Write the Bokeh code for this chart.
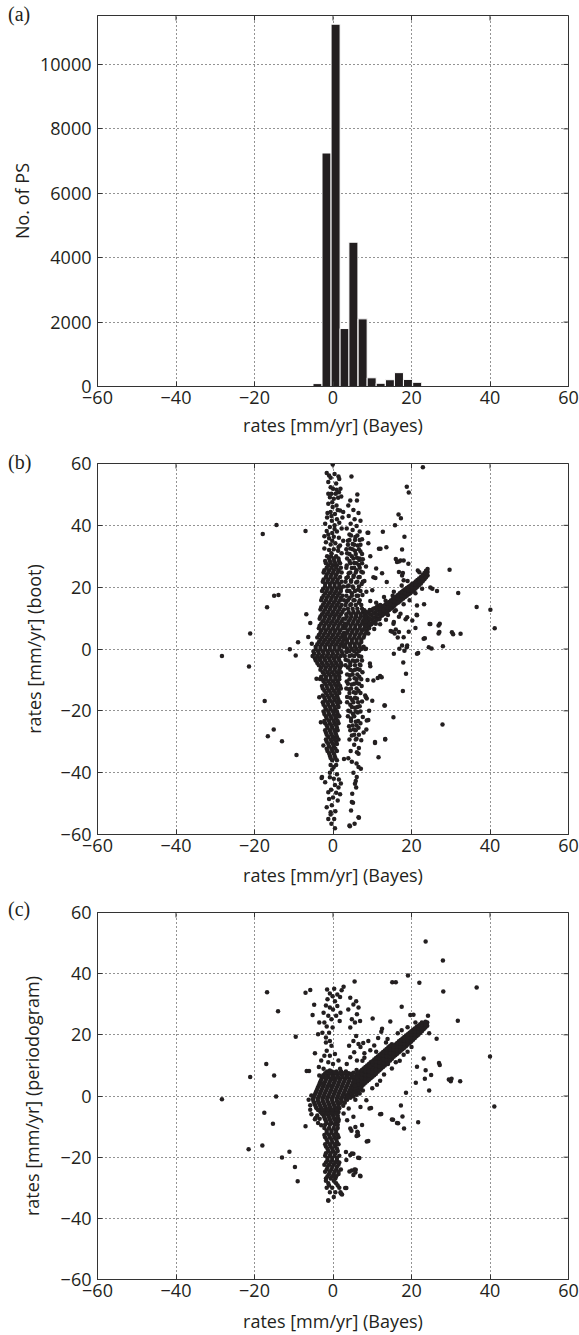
import math
from bokeh.plotting import figure
from bokeh.layouts import column
from bokeh.models import Range1d, FixedTicker, Div
from bokeh.embed import file_html
from bokeh.resources import INLINE

FONT = "Open Sans"
INK = "#231f20"
FRAME = "#333333"

# ---------------- data ----------------
x_ticks = [-60, -40, -20, 0, 20, 40, 60]
x_tick_labels = ["−60", "−40", "−20", "0", "20", "40", "60"]
rate_ticks = [-60, -40, -20, 0, 20, 40, 60]
rate_tick_labels = ["−60", "−40", "−20", "0", "20", "40", "60"]
count_ticks = [0, 2000, 4000, 6000, 8000, 10000]
count_tick_labels = ["0", "2000", "4000", "6000", "8000", "10000"]
panel_tags = ["(a)", "(b)", "(c)"]

# (a) histogram of Bayes rates
hist_centers = [-3.95, -1.65, 0.66, 2.95, 5.2, 7.55, 9.85, 12.15, 14.5, 16.8, 19.1, 21.45]
hist_counts = [90, 7250, 11250, 1800, 4480, 2100, 270, 100, 210, 430, 220, 130]

# (b) boot vs Bayes : main column near x=0 (rows: y, [x ...])
boot_column_rows = [
    (30, [-1.5, -0.5, 0.8]), (28.5, [-2, -0.8, 0.3, 1.5]), (27, [-1.2, 0, 1]),
    (25.5, [-2.2, -1, 0.2, 1.4]), (24, [-1.6, -0.4, 0.8]), (22.5, [-2.4, -1.2, 0, 1.2]),
    (21, [-2, -0.8, 0.4, 1.6]), (19.5, [-2.5, -1.4, -0.2, 1, 2]), (18, [-2, -0.8, 0.4, 1.6]),
    (16.5, [-2.8, -1.6, -0.4, 0.8, 2]), (15, [-2.2, -1, 0.2, 1.4]), (13.5, [-3, -1.8, -0.6, 0.6, 1.8]),
    (12, [-2.4, -1.2, 0, 1.2, 2.4]), (10.5, [-3.2, -2, -0.8, 0.4, 1.6]), (9, [-2.6, -1.4, -0.2, 1, 2.2]),
    (7.5, [-3.4, -2.2, -1, 0.2, 1.4, 2.6]), (6, [-3, -1.8, -0.6, 0.6, 1.8]),
    (4.5, [-3.6, -2.4, -1.2, 0, 1.2, 2.4]), (3, [-3.2, -2, -0.8, 0.4, 1.6, 2.8]),
    (1.5, [-4, -2.8, -1.6, -0.4, 0.8, 2]), (0, [-4.4, -3.2, -2, -0.8, 0.4, 1.6]),
    (-1.5, [-4.8, -3.6, -2.4, -1.2, 0, 1.2, 2.4]), (-3, [-4.6, -3.4, -2.2, -1, 0.2, 1.4]),
    (-4.5, [-4, -2.8, -1.6, -0.4, 0.8, 2]), (-6, [-3, -1.8, -0.6, 0.6, 1.8]),
    (-7.5, [-2.6, -1.4, -0.2, 1, 2]), (-9, [-3, -1.8, -0.6, 0.6, 1.6]), (-10.5, [-2.4, -1.2, 0, 1.2]),
    (-12, [-2.8, -1.6, -0.4, 0.8, 1.8]), (-13.5, [-2.2, -1, 0.2, 1.4]), (-15, [-2.6, -1.4, -0.2, 1]),
    (-16.5, [-2, -0.8, 0.4, 1.4]), (-18, [-2.4, -1.2, 0, 1.2]), (-19.5, [-1.8, -0.6, 0.6]),
    (-21, [-2.2, -1, 0.2, 1.2]), (-22.5, [-1.6, -0.4, 0.8]), (-24, [-2, -0.8, 0.4, 1.4]),
    (-25.5, [-1.4, -0.2, 1]), (-27, [-1.8, -0.6, 0.6]), (-28.5, [-1.2, 0, 1]),
    (-30, [-1.6, -0.4, 0.8]), (-31.5, [-1, 0.2]), (-33, [-1.4, -0.2, 1]), (-34.5, [-0.8, 0.4]),
    (-36, [-0.2, 1]), (-37.5, [-0.6, 0.8]),
]
boot_column_fill_rows = [
    (29.25, [-1, 0.2, 1.4]), (27.75, [-1.8, -0.6, 0.6, 1.8]), (26.25, [-1.6, -0.4, 0.8, 2]),
    (24.75, [-2.4, -1.2, 0, 1.2, 2.2]), (23.25, [-1.8, -0.6, 0.6, 1.8]),
    (21.75, [-2.6, -1.4, -0.2, 1, 2.2]), (20.25, [-2, -0.8, 0.4, 1.6, 2.6]),
    (18.75, [-2.8, -1.6, -0.4, 0.8, 2]), (17.25, [-2.4, -1.2, 0, 1.2, 2.4]),
    (15.75, [-3, -1.8, -0.6, 0.6, 1.8, 2.8]), (14.25, [-2.6, -1.4, -0.2, 1, 2.2]),
    (12.75, [-3.2, -2, -0.8, 0.4, 1.6, 2.8]), (11.25, [-2.8, -1.6, -0.4, 0.8, 2]),
    (9.75, [-3.4, -2.2, -1, 0.2, 1.4, 2.6]), (8.25, [-3, -1.8, -0.6, 0.6, 1.8, 3]),
    (6.75, [-3.6, -2.4, -1.2, 0, 1.2, 2.4]), (5.25, [-3.2, -2, -0.8, 0.4, 1.6, 2.8]),
    (3.75, [-4, -2.8, -1.6, -0.4, 0.8, 2, 3]), (2.25, [-3.6, -2.4, -1.2, 0, 1.2, 2.4]),
    (0.75, [-4.4, -3.2, -2, -0.8, 0.4, 1.6, 2.6]), (-0.75, [-5, -3.8, -2.6, -1.4, -0.2, 1, 2.2]),
    (-2.25, [-5.2, -4, -2.8, -1.6, -0.4, 0.8, 2]), (-3.75, [-4.4, -3.2, -2, -0.8, 0.4, 1.6]),
    (-5.25, [-3.6, -2.4, -1.2, 0, 1.2, 2.2]), (-6.75, [-3.2, -2, -0.8, 0.4, 1.6]),
    (-8.25, [-2.2, -1, 0.2, 1.4]), (-9.75, [-2.8, -1.8, -0.6, 0.6, 1.6]),
    (-11.25, [-2, -0.8, 0.4, 1.4]), (-12.75, [-2.6, -1.4, -0.2, 1, 2]),
    (-14.25, [-1.8, -0.6, 0.6, 1.6]), (-15.75, [-2.2, -1, 0.2, 1.2]),
    (-17.25, [-2.6, -1.4, -0.2, 1, 1.8]), (-18.75, [-2, -0.8, 0.4, 1.4]),
    (-20.25, [-2.4, -1.2, 0, 1]), (-21.75, [-1.8, -0.6, 0.6, 1.6]), (-23.25, [-2.2, -1, 0.2, 1.2]),
    (-24.75, [-1.6, -0.4, 0.8]), (-26.25, [-2, -0.8, 0.4, 1.2]), (-27.75, [-1.6, -0.4, 0.8]),
    (-29.25, [-1.8, -0.6, 0.4, 1.4]), (-30.75, [-1.2, 0, 1]), (-32.25, [-1.6, -0.4, 0.6]),
    (-33.75, [-1, 0.2]), (-35.25, [-0.6, 0.6]),
]
boot_column_ends = [
    (-0.07, 59.7), (-1.6, 56.9), (-1, 56.1), (-0.6, 55.4), (0.4, 56.6), (1.4, 55.8), (1.6, 55),
    (-0.6, 52.3), (0, 51.8), (0.9, 51.5), (1.9, 51.8), (-1.2, 50.2), (-0.4, 50.2), (0.7, 50.2),
    (1.5, 50.7), (-0.8, 49.1), (0.2, 48.6), (1.3, 48.9), (2.1, 49.3), (-1.2, 47), (-0.1, 45.9),
    (0.9, 46.4), (-0.6, 44.3), (0.5, 43.7), (1.8, 44.8), (2.6, 44.3), (-1.5, 42.5), (-0.3, 41.5),
    (1, 42), (-2, 40.5), (-0.8, 39.5), (0.4, 40), (1.6, 40.8), (-1.6, 38.2), (-0.2, 37.5), (1, 38),
    (-2.2, 36.5), (-1, 35.8), (0.2, 36.3), (1.5, 36), (-1.8, 34.5), (-0.6, 33.8), (0.6, 34.2),
    (1.8, 33.5), (-2.2, 32.5), (-1, 32), (0.2, 32.3), (1.3, 31.8), (2.2, 31),
    (-1.2, 54), (0.8, 53.5), (-0.2, 47.5), (1.2, 45), (-1.4, 44), (2.4, 42.5), (-0.4, 43),
    (2.2, 39), (-1.2, 37), (2.6, 35), (0.4, 38.8), (-0.2, 35), (1.4, 33), (-0.4, 31),
    (-0.2, -39), (1, -40.5), (0.2, -42), (-0.8, -41.5), (1.5, -42.2), (0.5, -44), (-0.5, -45.5),
    (0.8, -46.5), (0, -48), (1.2, -49), (-0.3, -50.5), (0.6, -52.5), (-0.6, -53.5), (0.3, -55),
    (-0.4, -56.5), (0.5, -58), (1.8, -47), (2, -43.5), (-2.8, -41.4), (-2, -43.1), (-1.2, -46.3),
    (-1.6, -51.2), (-0.6, -52.8), (-1.2, -55), (-3.5, -3.2), (-3.3, -9.7), (-3.5, -15.6),
    (-3.1, -23.7), (-2.45, -31.2), (0.2, -38.2), (-0.8, -40), (1.4, -44.8), (-1, -48.5),
]
# (b) second branch near x=5
boot_branch = [
    (6.2, 50), (6.1, 48), (4.4, 48), (3.9, 46.4), (5.2, 45), (6.5, 44), (4, 43), (5.5, 42), (7, 41.5),
    (4.5, 40.5), (6, 39.8), (3.5, 39), (5, 38.5), (6.8, 38), (4.2, 37), (5.7, 36.2), (7.4, 35.5),
    (3.8, 35), (5, 34), (6.3, 33.5), (4.4, 32.5), (5.6, 31.8), (7, 31.5), (3.6, 31), (4.8, 30),
    (6.1, 29.5), (7.6, 29), (4.2, 28.5), (5.4, 27.8), (6.6, 27.2), (3.5, 27), (4.8, 26.2), (6, 25.5),
    (7.2, 25), (4, 24.5), (5.3, 23.8), (6.5, 23.2), (3.4, 23), (4.6, 22.2), (5.9, 21.5), (7.3, 21),
    (4, 20.5), (5.2, 19.8), (6.4, 19.2), (3.6, 18.8), (4.8, 18), (6, 17.2), (7.5, 17.5), (4.2, 16.5),
    (5.5, 15.8), (3.4, 15.2), (6.6, 15), (4.6, 14.5),
    (8.8, 37.6), (9, 34.2), (10.3, 23.2), (6.7, 28.8), (8.4, 26.7), (9.5, 30), (8, 22), (10, 19),
    (9.5, 15.5), (8.5, 18.5), (11, 26), (12.5, 24.5),
    (3.5, -1), (4.8, -2), (6, -1.5), (7.2, -2.5), (3.2, -3.5), (4.4, -4.5), (5.6, -4), (6.8, -5),
    (3.8, -6), (5, -7), (6.2, -6.5), (7.5, -7.5), (4.3, -8.5), (5.5, -9.5), (6.7, -9), (3.5, -10.5),
    (4.8, -11.5), (6, -11), (7.3, -12), (4.1, -13), (5.3, -14), (6.5, -13.5), (3.6, -15.5),
    (4.9, -16.5), (6.1, -16), (7.4, -17), (4.4, -18), (5.6, -19), (6.8, -18.5), (3.9, -20),
    (5.1, -21), (6.3, -20.5), (7.6, -22), (4.6, -22.5), (5.8, -23.5), (7, -24), (4.1, -25),
    (5.3, -26), (6.5, -25.5), (7.8, -27), (4.8, -28), (6, -29), (7.2, -29.5), (5.4, -31),
    (6.6, -32), (4.5, -33), (8.5, -26), (9, -23), (8.2, -15), (8.8, -10), (9.2, -20),
    (6, -37), (5.2, -40), (4.8, -36.5),
]
boot_branch_fill_rows = [
    (36.75, [4.6, 6.2]), (35.25, [4.2, 5.6, 6.8]), (33.75, [3.8, 5.4, 7]), (32.25, [3.4, 5, 6.6]),
    (30.75, [4.2, 5.8, 7.4]), (29.25, [3.6, 5.2, 6.8]), (27.75, [4.4, 6, 7.4]),
    (26.25, [3.4, 5.4, 6.8]), (24.75, [4.4, 5.8, 7.6]), (23.25, [3.8, 5.2, 6.8]),
    (21.75, [3.2, 4.6, 6.2, 7.6]), (20.25, [3.6, 5, 6.6]), (18.75, [4.2, 5.6, 7]),
    (17.25, [3.4, 4.8, 6.4]), (15.75, [3.8, 5.2, 6.8]), (14.25, [3.2, 4.4, 5.8, 7.2]),
    (13, [3.8, 5, 6.2, 7.4]),
    (-2.25, [3, 4.2, 5.4, 6.6]), (-3.75, [3.8, 5, 6.2, 7.4]), (-5.25, [3.2, 4.4, 5.6, 7]),
    (-6.75, [4.4, 5.6, 6.8]), (-8.25, [3.6, 5, 6.2]), (-9.75, [4.2, 6, 7.2]),
    (-11.25, [3.8, 5.4, 6.6]), (-12.75, [3.4, 4.6, 6]), (-14.25, [4.2, 5.8, 7]),
    (-15.75, [4.4, 5.6]), (-17.25, [3.6, 5.2, 6.4]), (-18.75, [4.8, 6.2]), (-20.25, [4.4, 5.8, 7]),
    (-21.75, [3.8, 5.4]), (-23.25, [4.6, 6.4]), (-24.75, [5, 6]), (-26.25, [4.4, 5.8]),
    (-27.75, [5.4, 6.6]), (-29.25, [4.2, 5.8]),
]
# (b) dense blob right of the column (rows: y, [x ...])
boot_blob_rows = [
    (12, [4, 5.2, 6.4, 7.6]), (10.5, [3.5, 4.7, 5.9, 7.1, 8.3]), (9, [4, 5.2, 6.4, 7.6, 8.8]),
    (7.5, [3.3, 4.5, 5.7, 6.9, 8.1, 9.3]), (6, [3.8, 5, 6.2, 7.4, 8.6]), (4.5, [3.2, 4.4, 5.6, 6.8, 8]),
    (3, [3.6, 4.8, 6, 7.2]), (1.5, [3.1, 4.3, 5.5, 6.7]), (0, [3.6, 4.8, 6, 7.2, 8.2]),
    (11.25, [3.4, 4.6, 5.8, 7, 8.2]), (9.75, [3.2, 4.4, 5.6, 6.8, 8, 9.2]),
    (8.25, [3.8, 5, 6.2, 7.4, 8.6]), (6.75, [3.2, 4.4, 5.6, 6.8, 8, 9.2]),
    (5.25, [3.6, 4.8, 6, 7.2, 8.4]), (3.75, [3, 4.2, 5.4, 6.6, 7.8]), (2.25, [3.6, 4.8, 6, 7.2]),
    (0.75, [3.2, 4.4, 5.6, 6.8, 7.8]), (-0.75, [3.4, 4.2, 5.4, 6.6]),
]
# (b) diagonal branch (cols: x, [y ...])
boot_diag_cols = [
    (8.0, [6.5, 8, 9.5, 11, 12.5]), (8.9, [7.2, 8.7, 10.2, 11.7]), (9.8, [8, 9.5, 11, 12.5]),
    (10.7, [8.8, 10.3, 11.8, 13.2]), (11.6, [9.8, 11.2, 12.6, 14]), (12.5, [10.8, 12.2, 13.6]),
    (13.4, [11.6, 13, 14.4, 15.6]), (14.3, [12.6, 13.9, 15.2]), (15.2, [13.4, 14.8, 16.1, 17.2]),
    (16.1, [14.6, 15.8, 17]), (17.0, [15.4, 16.7, 18]), (17.9, [16.3, 17.6, 18.9]),
    (18.8, [17.2, 18.5, 19.7]), (19.7, [18, 19.3, 20.5]), (20.6, [19.1, 20.2, 21.3]),
    (21.5, [20.1, 21.2, 22.3]), (22.4, [21.2, 22.2, 23.3]), (23.3, [22.6, 23.6, 24.6]),
    (24.1, [23.8, 24.9, 25.9]),
    (8.45, [7.6, 9, 10.5, 12]), (9.35, [8.3, 9.8, 11.3, 12.6]), (10.25, [8.6, 10, 11.5, 13]),
    (11.15, [9.5, 11, 12.4, 13.6]), (12.05, [10.4, 11.8, 13.2, 14.2]), (12.95, [11.2, 12.6, 14]),
    (13.85, [12, 13.4, 14.8]), (14.75, [13, 14.4, 15.7]), (15.65, [14, 15.3, 16.6]),
    (16.55, [15, 16.3, 17.5]), (17.45, [15.9, 17.2, 18.4]), (18.35, [16.8, 18.1, 19.3]),
    (19.25, [17.7, 18.9, 20.1]), (20.15, [18.6, 19.8, 21]), (21.05, [19.6, 20.8, 21.8]),
    (21.95, [20.7, 21.8, 22.8]), (22.85, [21.9, 22.9, 23.9]), (23.7, [23.2, 24.3, 25.3]),
]
boot_scatter = [
    (-28.3, -2.3), (-21.4, -5.7), (-21.1, 5.0), (-17.9, 37.2), (-14.4, 40.1), (-16.8, 13.5),
    (-15, 17.2), (-13.9, 17.5), (-17.4, -16.8), (-16.6, -28.2), (-15.1, -26), (-13, -29.8),
    (-9.3, -34.3), (-9.5, -2.1), (-11, -0.1), (-8.9, 2.2), (-7, 38.2), (-6.8, 11.2), (-5.8, 8.4),
    (-6.3, 3.9), (-5.4, 1.7), (-4.2, -9.6), (-2.9, -41.7), (4.7, 55.8), (22.9, 58.8), (18.8, 52.5),
    (19.3, 50.6), (16.7, 43.5), (17.3, 42.3), (12.7, 37.9), (9, 37.6), (15.8, 40), (18.2, 36.3),
    (11.7, 32.4), (13.6, 32.9), (16, 29.1), (16.8, 28.3), (19.2, 27.6), (17.8, 24.6), (13.7, 21.7),
    (29.7, 25.6), (31.9, 18.1), (26.5, 18.8), (24.8, 19.9), (36.6, 13.6), (40.1, 12.7), (41.2, 6.7),
    (32.5, 4.9), (30.3, 5.4), (30.6, 4.8), (27.1, 5.5), (24.6, 8.1), (27.2, 8.2), (25.1, 0.2),
    (28, 0.9), (21.7, -1.3), (23.4, 3.5), (21, 6.8), (21.3, 11.1), (23.2, 14.5), (27.9, -24.4),
    (18.6, -8), (17.8, -13.6), (17.9, -4.4), (15.4, -22.1), (13.2, -18.3), (13.3, -29.1),
    (10.7, -30.1), (11.6, -35), (12, -8.7), (11.4, -9.4), (9.4, -4.7), (8.6, -16), (7.1, -38.7),
    (6.5, -33.9), (5.8, -42.7), (4.9, -46.8), (5.1, -49.7), (4.6, -52.2), (5.5, -56.5), (4.3, -57.3),
    (6.6, -54.6), (5.9, -44.8), (3.9, -35.3), (2.8, -35.6), (15.7, 5), (16, 6.3), (14.7, 5.8),
    (16.5, 3.7), (16.9, 0.1), (18.2, -0.6), (18.8, 0.6), (15.7, 12.2), (15.4, 8.2), (16.8, 10.4),
    (18.5, 9.6), (10.9, 8.2), (11.8, 9.6), (15.5, 8.7), (16.8, 5.5), (18, 3.8), (15.1, 5.6),
    (19.3, 5.6), (17.2, 11.4), (18.9, 10.3), (20.2, 9.2), (15.5, -1.5), (17.6, 1.1), (18.9, 1.1),
    (21.4, 10.9), (24.8, 8.1), (26.9, 7.6), (26.9, 5), (23.1, 3.3), (24.4, 0.6), (21.4, -1.5),
    (10.8, 23), (17.2, 28.6), (18, 28.6), (16.3, 28.1), (12.1, 32.4), (17.6, 32.2), (17.6, 23.8),
    (18, 22.2), (16.8, 24.9), (21.6, 25.4), (25.3, 19.5), (22.7, 19.5), (21.4, 14.1),
    (9, 5), (10.5, 6.5), (12, 8), (13.5, 9.5), (14, 11), (16, 12.5), (18, 14.5), (19.5, 15.8),
    (21, 18), (11, 15), (13, 16.8), (15.5, 18.5), (17.5, 20.5), (19, 22), (22, 24.8),
    (8.4, 0.05), (9.5, -5.6), (12.4, -9.1), (10.3, -10.2), (8.4, -15.6), (10, -16.7), (13.1, -18.3),
    (8.6, -23.1), (10.7, -30.4), (13.3, -29.3), (6.1, -33.4), (6.5, -38.2), (6.05, -41.4),
    (5.6, -43.6), (4.8, -49.5), (6.5, -54.4), (4.2, -57.1),
]

# (c) periodogram vs Bayes
perio_blob_rows = [
    (8, [-1.5, -0.3, 0.9, 2.1, 3.3]), (6.8, [-2.5, -1.3, -0.1, 1.1, 2.3, 3.5, 4.7]),
    (5.6, [-2.9, -1.7, -0.5, 0.7, 1.9, 3.1, 4.3, 5.5]),
    (4.4, [-3.3, -2.1, -0.9, 0.3, 1.5, 2.7, 3.9, 5.1, 6.3]),
    (3.2, [-3.7, -2.5, -1.3, -0.1, 1.1, 2.3, 3.5, 4.7, 5.8]),
    (2, [-4.1, -2.9, -1.7, -0.5, 0.7, 1.9, 3.1, 4.3, 5.4]),
    (0.8, [-4.5, -3.3, -2.1, -0.9, 0.3, 1.5, 2.7, 3.9, 5]),
    (-0.4, [-4.9, -3.7, -2.5, -1.3, -0.1, 1.1, 2.3, 3.4]),
    (-1.6, [-5, -3.8, -2.6, -1.4, -0.2, 1, 2.2]), (-2.8, [-4.6, -3.4, -2.2, -1, 0.2, 1.4]),
    (-4, [-4.2, -3, -1.8, -0.6, 0.6, 1.6]), (-5.2, [-3.2, -2, -0.8, 0.4, 1.4]),
    (-6.4, [-2.4, -1.2, 0, 1.2]), (-7.6, [-2, -0.8, 0.4, 1.4]), (-8.8, [-1.6, -0.4, 0.8]),
    (7.4, [-2, -0.8, 0.4, 1.6, 2.8, 4]), (6.2, [-2.6, -1.1, 0.1, 1.3, 2.5, 3.7, 4.9, 5.6]),
    (5, [-3.1, -1.9, -0.7, 0.5, 1.7, 2.9, 4.1, 5.3, 6]),
    (3.8, [-3.5, -2.3, -1.1, 0.1, 1.3, 2.5, 3.7, 4.9, 5.9]),
    (2.6, [-3.9, -2.7, -1.5, -0.3, 0.9, 2.1, 3.3, 4.5, 5.6]),
    (1.4, [-4.3, -3.1, -1.9, -0.7, 0.5, 1.7, 2.9, 4.1, 5.2, 6.2]),
    (0.2, [-4.7, -3.5, -2.3, -1.1, 0.1, 1.3, 2.5, 3.4, 4.5]),
    (-1, [-5.1, -3.9, -2.7, -1.5, -0.3, 0.9, 2, 3.2]), (-2.2, [-4.8, -3.6, -2.4, -1.2, 0, 1.2, 2]),
    (-3.4, [-4.4, -3.2, -2, -0.8, 0.4, 1.4]), (-4.6, [-3.8, -2.6, -1.4, -0.2, 1]),
    (-5.8, [-2.8, -1.6, -0.4, 0.8]), (-7, [-2.2, -1, 0.2, 1.2]), (-8.2, [-1.8, -0.6, 0.6, 1.4]),
    (-9.4, [-2, -0.8, 0.4, 1.2]),
]
perio_column_rows = [
    (-10.5, [-2.2, -1, 0.2, 1.2]), (-12, [-1.6, -0.4, 0.8]), (-13.5, [-2, -0.8, 0.4, 1.4]),
    (-15, [-1.4, -0.2, 1]), (-16.5, [-1.8, -0.6, 0.6]), (-18, [-1.2, 0, 1.2]),
    (-19.5, [-2, -0.8, 0.4, 1.6]), (-21, [-1.4, -0.2, 1]), (-22.5, [-2.2, -1, 0.2, 1.4]),
    (-24, [-1.6, -0.4, 0.8, 2]), (-25.5, [-1, 0.2, 1.4]), (-27, [-1.8, -0.6, 0.6]),
    (-28.5, [-1.2, 0.8]), (-30, [-1.6, -0.2, 1.6]), (-31.5, [-0.8, 0.6]), (-33, [0.2]), (-34.2, [-1.2]),
    (-11.25, [-1.6, -0.4, 0.8]), (-12.75, [-2.2, -1, 0.2, 1.2]), (-14.25, [-1.6, -0.4, 0.8]),
    (-15.75, [-2, -0.8, 0.4, 1.4]), (-17.25, [-1.4, -0.2, 1]), (-18.75, [-1.8, -0.6, 0.6]),
    (-20.25, [-1.4, -0.2, 1]), (-21.75, [-1.8, -0.6, 0.6, 1.6]), (-23.25, [-1.4, -0.2, 1]),
    (-24.75, [-2, -0.8, 0.4, 1.4]), (-26.25, [-1.4, -0.2, 0.8]), (-27.75, [-1.8, 0.2]),
    (-29.25, [-1, 1.2]),
]
perio_diag_cols = [
    (6.0, [2, 3.3, 4.6, 5.9, 7.2, 8.5]), (6.9, [2.8, 4.1, 5.4, 6.7, 8]), (7.8, [3.8, 5.1, 6.4, 7.7, 9]),
    (8.7, [4.8, 6.1, 7.4, 8.7, 10]), (9.6, [5.8, 7.1, 8.4, 9.7, 11]), (10.5, [6.8, 8.1, 9.4, 10.7, 11.9]),
    (11.4, [7.9, 9.2, 10.5, 11.8, 12.9]), (12.3, [9, 10.3, 11.6, 12.8, 13.9]),
    (13.2, [10, 11.3, 12.6, 13.8, 14.9]), (14.1, [11.1, 12.4, 13.6, 14.8, 15.9]),
    (15.0, [12.2, 13.4, 14.6, 15.8, 16.9]), (15.9, [13.3, 14.5, 15.7, 16.8]),
    (16.8, [14.3, 15.5, 16.7, 17.9]), (17.7, [15.3, 16.5, 17.7, 18.8]), (18.6, [16.3, 17.5, 18.7, 19.8]),
    (19.5, [17.3, 18.5, 19.7, 20.7]), (20.4, [18.4, 19.6, 20.7, 21.7]), (21.3, [19.5, 20.6, 21.7, 22.6]),
    (22.2, [20.6, 21.7, 22.7, 23.5]), (23.1, [21.8, 22.8, 23.7]), (24.0, [23, 24]),
    (6.45, [2.4, 3.7, 5, 6.3, 7.6]), (7.35, [3.3, 4.6, 5.9, 7.2, 8.5]), (8.25, [4.3, 5.6, 6.9, 8.2, 9.5]),
    (9.15, [5.3, 6.6, 7.9, 9.2, 10.5]), (10.05, [6.3, 7.6, 8.9, 10.2, 11.4]),
    (10.95, [7.3, 8.6, 9.9, 11.2, 12.4]), (11.85, [8.4, 9.7, 11, 12.3, 13.4]),
    (12.75, [9.5, 10.8, 12.1, 13.3, 14.4]), (13.65, [10.5, 11.8, 13.1, 14.3, 15.4]),
    (14.55, [11.6, 12.9, 14.1, 15.3, 16.4]), (15.45, [12.8, 14, 15.2, 16.3]),
    (16.35, [13.8, 15, 16.2, 17.3]), (17.25, [14.8, 16, 17.2, 18.3]), (18.15, [15.8, 17, 18.2, 19.3]),
    (19.05, [16.8, 18, 19.2, 20.2]), (19.95, [17.8, 19, 20.2, 21.2]), (20.85, [19, 20.1, 21.2, 22.1]),
    (21.75, [20, 21.1, 22.2, 23]), (22.65, [21.2, 22.2, 23.2, 24]), (23.55, [22.4, 23.4, 24.3]),
]
perio_join = [
    (4.8, 0.6), (4.8, 1.8), (5.2, 2.6), (5.4, 1.2), (5.6, 3.4), (5.8, 2.2), (5.5, 4.8), (5.9, 6),
    (5.3, 6.4), (6.2, 1.4), (6.6, 1.9), (7.1, 2.6), (4.4, -0.6), (5.2, -0.2), (6, 0.4), (3.6, -1.2),
    (3, -2.2), (2.6, -3.2), (3.8, -0.2), (6.8, 0.8), (7.6, 1.8), (4.6, 7.2), (5.2, 7.6),
]
perio_upper = [
    (-0.8, 33.5), (-0.1, 32.6), (1.1, 33.2), (1.8, 32.4), (-1.4, 31.6), (0.5, 31), (-1.8, 29.6),
    (-0.8, 28.9), (0, 28.3), (1.1, 29.4), (1.9, 27.2), (-2.4, 27.2), (-1.2, 26.2), (-0.4, 25.1),
    (0.8, 26.2), (1.7, 24.5), (-3.5, 24), (-2.2, 24), (-1.6, 22.7), (-0.1, 22.4), (-1, 20.7),
    (-2.7, 20.7), (-3.8, 20.2), (-1.8, 19.1), (-0.8, 18), (-1.8, 17.5), (-0.4, 16.4), (-1.6, 14.8),
    (-2.2, 13.2), (-0.8, 13.2), (0.5, 13.7), (-3, 11.6), (-1.2, 11), (0, 10.5), (1.4, 11.6),
    (-2.4, 8.9), (-0.8, 8.3), (0.5, 7.8), (1.8, 8.9), (-3.5, 6.7), (-1.8, 6.1), (-0.1, 5.6),
    (1.1, 6.1), (-2.6, 4), (-0.8, 3.5), (0.3, 35.1), (2.2, 34.6), (-1.5, 34.8),
    (4.4, 32.1), (5.9, 31), (5.2, 29.9), (6.5, 28.9), (3.9, 28.3), (6.1, 26.7), (4.8, 25.1),
    (5.6, 24), (6.9, 24.5), (4.4, 22.4), (5.9, 19.6), (5.2, 18), (4.1, 16.4), (6.5, 17), (5.4, 14.3),
    (4.4, 12.7), (6.1, 11.6), (3.5, 10.5), (2.7, 35.7), (5.5, 37.4),
    (-5.5, -6), (-4.6, -7.6), (-3.8, -8.8), (-3, -9.6), (-5.8, -3), (-6.2, -1.2), (-4, -6.4),
    (-3.4, -7.4),
]
perio_scatter = [
    (-28.3, -1.1), (-21.1, 6.2), (-21.5, -17.4), (-16.8, 33.9), (-17, 10.5), (-17.5, -5.5),
    (-18, -16.2), (-15, 6.7), (-14.5, -0.2), (-15.3, -9.1), (-14, 27.7), (-13, -20.1), (-11.1, -18.2),
    (-9.5, 19.4), (-9.7, -23.2), (-9, -27.9), (-7, 33.8), (-5.8, 34.7), (-4.8, 29.8), (-7, -9.9),
    (-6.7, 8.2), (-6.1, 8.2), (-5.5, 0.2), (19.1, 39.4), (23.6, 50.5), (28, 44.3), (15.1, 37.2),
    (16, 37.2), (22, 37), (28.1, 34.2), (36.6, 35.5), (31.8, 24.6), (26.4, 18.7), (24.5, 20.5),
    (27, 10.8), (27.2, 10.1), (23.1, 12.3), (40, 12.9), (29.5, 5.4), (30, 4.8), (30.2, 5.6),
    (32.4, 4.8), (41.1, -3.4), (25, 6.9), (23.4, 5.6), (21.1, 4.3), (24.5, 1.8), (21.7, -8.6),
    (18.6, 1.1), (17.3, -3.1), (17.7, -6.7), (18.1, -10.6), (16.6, -8.9), (15.3, -7.8), (12.3, -5.9),
    (9.7, -3.9), (9, -14.7), (7, -26.2), (5.8, -24.1), (6.4, -20.2), (3.4, -30.1), (2, -31.9),
    (-1.2, -34.2), (4.8, -24.4), (5.7, -25), (3.3, -18.3), (5.2, -18.9), (6.4, -12.8), (6.2, -11.7),
    (4.7, -11.4), (10.1, 25.3), (12.3, 21), (13.9, 18.6), (14.6, 24.4), (17.5, 29.2), (19.7, 26.5),
    (20.5, 26.6), (24.2, 26.2), (7.7, 17.3), (9.4, 9.7), (21.4, 9.6), (23.6, 8.4), (5.7, -1.2),
    (8.5, -1.4), (11.2, 3.7), (12, -6), (9.3, -4.1), (15, -7.7), (16.3, -8.8), (8.6, -14.9),
    (4.2, -24.7), (5.5, -24), (6.9, -26.1), (5.2, -25.8), (3.4, -20.9), (4.4, -19.3), (6.7, -20.3),
    (4.8, -18.8), (3.1, -30.1), (1.9, -31.5), (2.3, -32.2), (3.6, -7.9), (4.4, -10.6), (5.7, -10.1),
    (6.3, -12), (6, -13.1), (2.7, -5.7), (4, -4.1), (5.2, -6.8), (7.4, -9.5), (7, -3.6),
    (8, 12.5), (10, 2.5), (12, 5), (13, 7), (15, 9), (16, 11), (17, 11.5), (18, 13.5), (19, 14.5),
    (20, 16), (11, 14.5), (13.5, 17.5), (16.5, 20.5), (19, 22.5), (21, 24), (14, 10.5), (17.5, 21.5),
    (9.5, 15), (8, 14), (10.5, 16.5), (7.5, 11.5), (7, 16), (9, 18), (11.5, 19), (12.5, 22),
    (-4.4, -7.2), (-5.8, -4.5), (-3.6, 9.5), (-4.6, 14), (-5.2, 26.5),
]


def from_rows(rows):
    xs, ys = [], []
    for yv, xlist in rows:
        for xv in xlist:
            xs.append(xv)
            ys.append(yv)
    return xs, ys


def from_cols(cols):
    xs, ys = [], []
    for xv, ylist in cols:
        for yv in ylist:
            xs.append(xv)
            ys.append(yv)
    return xs, ys


def from_pairs(pairs):
    return [q[0] for q in pairs], [q[1] for q in pairs]


def gather(*parts):
    xs, ys = [], []
    for px, py in parts:
        xs += px
        ys += py
    return xs, ys


boot_x, boot_y = gather(from_rows(boot_column_rows), from_rows(boot_column_fill_rows),
                        from_pairs(boot_column_ends), from_pairs(boot_branch),
                        from_rows(boot_branch_fill_rows), from_rows(boot_blob_rows),
                        from_cols(boot_diag_cols), from_pairs(boot_scatter))
perio_x, perio_y = gather(from_rows(perio_blob_rows), from_rows(perio_column_rows),
                          from_cols(perio_diag_cols), from_pairs(perio_join),
                          from_pairs(perio_upper), from_pairs(perio_scatter))


# ---------------- figures ----------------
def style_axis(ax, font_px="18px"):
    ax.axis_line_color = FRAME
    ax.major_tick_line_color = FRAME
    ax.major_tick_in = 5
    ax.major_tick_out = 0
    ax.minor_tick_in = 0
    ax.minor_tick_out = 0
    ax.major_label_text_font = FONT
    ax.major_label_text_font_size = font_px
    ax.major_label_text_color = INK
    ax.axis_label_text_font = FONT
    ax.axis_label_text_font_size = font_px
    ax.axis_label_text_font_style = "normal"
    ax.axis_label_text_color = INK


def make_panel(height, top, bottom, y_lo, y_hi, y_ticks, y_labels, y_title, y_title_standoff,
               x_title_standoff):
    p = figure(width=579, height=height, x_range=Range1d(-60, 60), y_range=Range1d(y_lo, y_hi),
               output_backend="svg", toolbar_location=None,
               min_border_left=97, min_border_right=11, min_border_top=top, min_border_bottom=bottom)
    p.outline_line_color = FRAME
    p.outline_line_width = 1
    p.background_fill_color = "white"
    p.border_fill_color = "white"

    xa = p.xaxis[0]
    ya = p.yaxis[0]
    style_axis(xa)
    style_axis(ya)
    xa.ticker = FixedTicker(ticks=x_ticks)
    xa.major_label_overrides = dict(zip(x_ticks, x_tick_labels))
    xa.axis_label = "rates [mm/yr] (Bayes)"
    xa.major_label_standoff = 4
    xa.axis_label_standoff = x_title_standoff
    ya.ticker = FixedTicker(ticks=y_ticks)
    ya.major_label_overrides = dict(zip(y_ticks, y_labels))
    ya.axis_label = y_title
    ya.major_label_standoff = 6
    ya.axis_label_standoff = y_title_standoff

    for g in (p.xgrid[0], p.ygrid[0]):
        g.grid_line_color = "black"
        g.grid_line_dash = "1 3"
        g.grid_line_width = 1
        g.grid_line_alpha = 0.85

    # inward tick marks on the top and right edges (half of each dash is clipped by the frame)
    p.scatter(x=x_ticks, y=[y_hi] * len(x_ticks), marker="dash", angle=math.pi / 2, size=10,
              line_color=FRAME, line_width=1)
    p.scatter(x=[60] * len(y_ticks), y=y_ticks, marker="dash", size=10,
              line_color=FRAME, line_width=1)
    return p


def tag_div(text, fig_height, top_in_fig):
    up = fig_height - top_in_fig
    return Div(text=text, width=40, height=24, margin=(-up, 0, up - 24, 8),
               styles={"font-family": "'Liberation Serif', 'Times New Roman', serif",
                       "font-size": "20px", "line-height": "24px", "color": INK,
                       "position": "relative", "z-index": "10"})


HA, HB, HC = 452, 445, 438

pa = make_panel(HA, 15, 66, 0, 11520, count_ticks, count_tick_labels, "No. of PS", 3, 6)
pa.vbar(x=hist_centers, top=hist_counts, bottom=0, width=2.3,
        fill_color=INK, line_color="white", line_width=1)

pb = make_panel(HB, 11, 63, -60, 60, rate_ticks, rate_tick_labels, "rates [mm/yr] (boot)", 12, 8)
pb.scatter(boot_x, boot_y, marker="circle", size=4.5, fill_color=INK, line_color=None)

pc = make_panel(HC, 15, 53, -60, 60, rate_ticks, rate_tick_labels,
                "rates [mm/yr] (periodogram)", 14, 9)
pc.scatter(perio_x, perio_y, marker="circle", size=4.5, fill_color=INK, line_color=None)

layout = column(pa, tag_div(panel_tags[0], HA, 2),
                pb, tag_div(panel_tags[1], HB, -2),
                pc, tag_div(panel_tags[2], HC, 0),
                spacing=0)
open("out.html", "w").write(file_html(layout, INLINE))
